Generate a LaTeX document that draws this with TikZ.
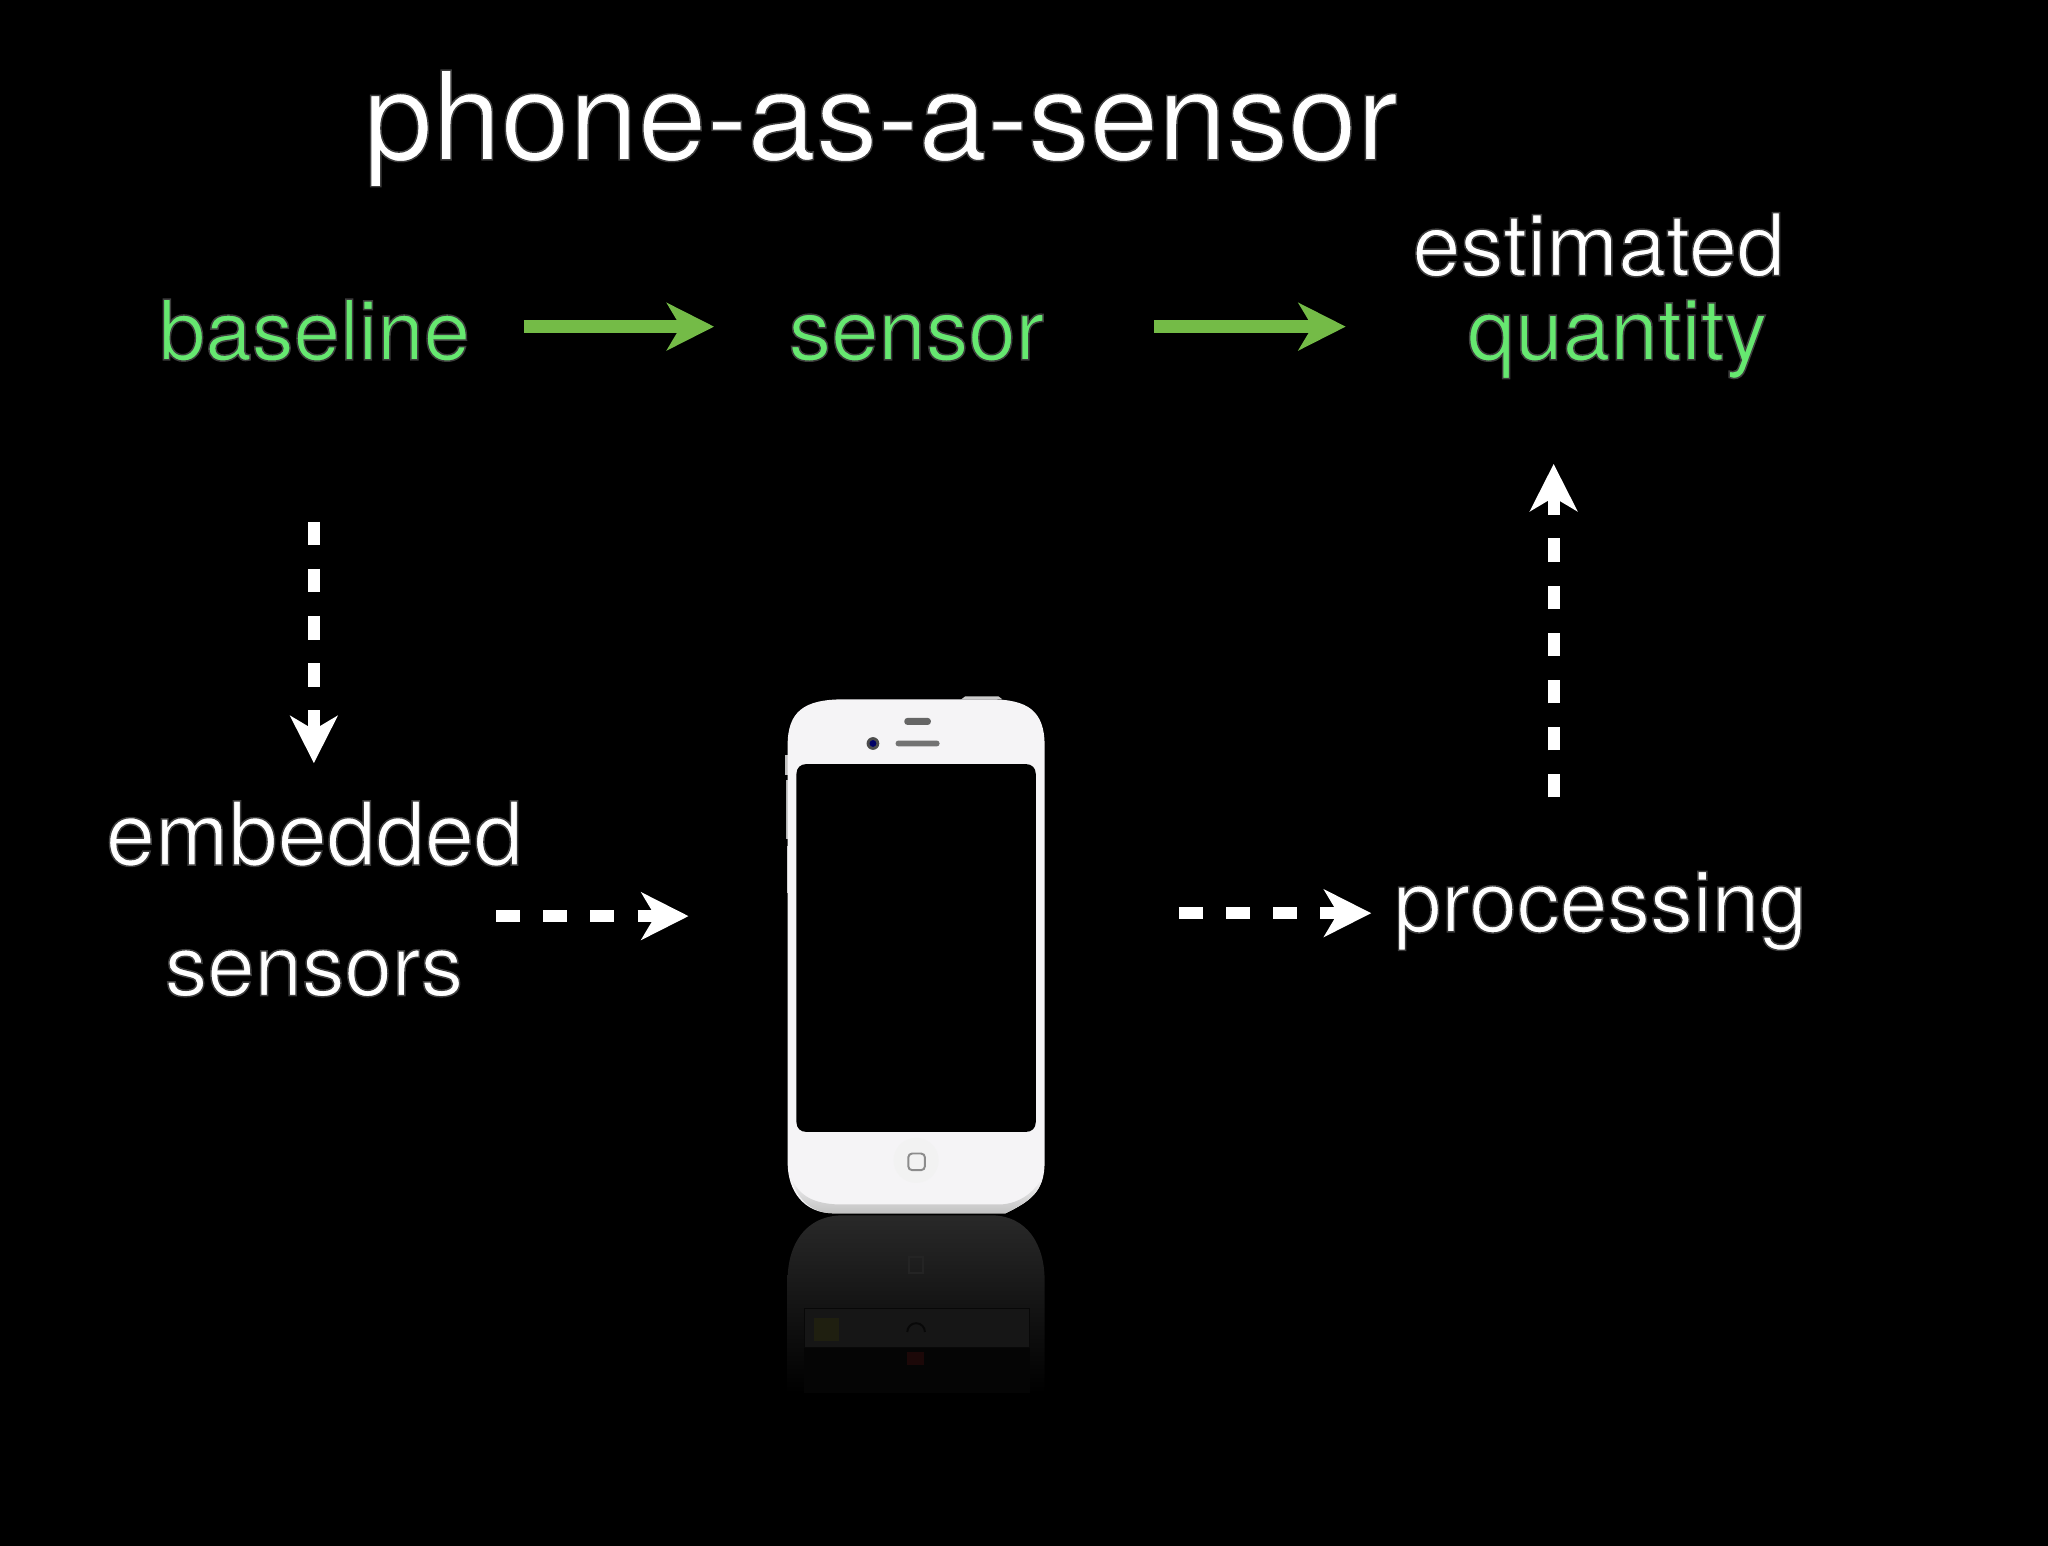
\documentclass[tikz,border=0pt]{standalone}
\usepackage{fontspec}
\setmainfont{TeX Gyre Heros}
\usetikzlibrary{arrows.meta}
\definecolor{greentext}{HTML}{66E870}
\definecolor{greenarrow}{HTML}{74BB47}
\definecolor{phonebody}{HTML}{F5F4F6}
\definecolor{reflecttop}{gray}{0.16}
\definecolor{reflectrect}{gray}{0.085}
\definecolor{reflectlow}{gray}{0.02}
\definecolor{reflectline}{gray}{0.03}
\definecolor{reflecticon}{HTML}{1F1F10}
\definecolor{reflectred}{HTML}{1C0808}
\definecolor{reflectbtn}{gray}{0.14}
% the text is filled, then stroked in a dim grey: thinner letters with a soft halo
\newcommand{\glowtext}[2]{{\color{#1}\special{pdf:code 2 Tr 0.24 0.24 0.24 RG 0.75 w}#2\special{pdf:code 0 Tr}}}
\tikzset{
  lbl/.style={anchor=base west,inner sep=0pt,outer sep=0pt},
  greenarr/.style={draw=greenarrow,line width=6.5pt,-{Stealth[length=24pt,width=24pt,inset=7pt,fill=greenarrow]}},
  dasharr/.style={draw=white,line width=6pt,dash pattern=on 12pt off 12pt,-{Stealth[length=24pt,width=24pt,inset=7pt,fill=white]}},
  pill/.style={fill=#1,rounded corners=1.5pt}
}
\begin{document}
\begin{tikzpicture}[x=0.5pt,y=-0.5pt]
\fill[black] (-20,-20) rectangle (2068,1556);
\useasboundingbox (0,0) rectangle (2048,1536);

% reflection
\shade[top color=reflecttop,bottom color=black]
  (783,1285) .. controls (783,1250) and (800,1219) .. (840,1219) -- (990,1219)
  .. controls (1028,1219) and (1045,1250) .. (1045,1285) -- (1045,1400) -- (783,1400) -- cycle;
\fill[reflectlow] (800,1354) rectangle (1030,1400);
\fill[reflectrect] (800,1314) rectangle (1030,1354);
\draw[reflectline,line width=0.6pt] (800,1314) rectangle (1030,1354);
\fill[reflecticon] (810,1324) rectangle (835,1347);
\draw[reflectbtn,line width=1pt] (907,1262) rectangle (921,1278);
\draw[reflectline,line width=1pt] (905,1338) arc (180:360:9);
\fill[reflectred] (905,1358) rectangle (922,1372);

% phone
\fill[white!80!black] (960,693) -- (964,690) -- (998,690) -- (1002,693) -- cycle;
\fill[white!75!black] (780,750) rectangle (785,770);
\fill[white!70!black] (781,775) rectangle (785,835);
\fill[white!75!black] (782,842) rectangle (785,890);
\fill[phonebody]
  (783,740) .. controls (783,705) and (800,693) .. (840,693) -- (990,693)
  .. controls (1028,693) and (1045,705) .. (1045,740) -- (1045,1165)
  .. controls (1045,1195) and (1030,1205) .. (1005,1217) -- (830,1217)
  .. controls (800,1217) and (783,1195) .. (783,1165) -- cycle;
\shade[top color=phonebody,bottom color=white!76!black]
  (786,1180) .. controls (795,1200) and (810,1207) .. (835,1208) -- (1000,1208)
  .. controls (1020,1207) and (1035,1195) .. (1043,1180)
  .. controls (1040,1195) and (1030,1205) .. (1005,1217) -- (830,1217)
  .. controls (805,1217) and (792,1200) .. (786,1180) -- cycle;
\fill[black] (802,759) -- (1026,759) .. controls (1032,759) and (1036,763) .. (1036,769)
  -- (1036,1124) .. controls (1036,1130) and (1032,1134) .. (1026,1134)
  -- (802,1134) .. controls (796,1134) and (792,1130) .. (792,1124)
  -- (792,769) .. controls (792,763) and (796,759) .. (802,759) -- cycle;
\fill[pill=black!60!white] (902,712) rectangle (929,719);
\fill[pill=black!55!white] (893,735) rectangle (938,741);
\fill[black!70!white] (870,738) circle (6.5);
\fill[blue!40!black] (870,738) circle (3.5);
\fill[white!95!black] (914,1163) circle (23);
\draw[black!45!white,line width=1pt,rounded corners=2pt] (906,1156) rectangle (923,1173);

% labels
\node[lbl,font=\fontsize{62.8}{70}\selectfont] (title) at (351,143) {\glowtext{white}{phone-as-a-sensor}};
\node[lbl,font=\fontsize{42.6}{50}\selectfont] (base) at (142,347) {\glowtext{greentext}{baseline}};
\node[lbl,font=\fontsize{43.4}{50}\selectfont] (sens) at (784,347) {\glowtext{greentext}{sensor}};
\node[lbl,font=\fontsize{44}{50}\selectfont] (est) at (1420,261) {\glowtext{white}{estimated}};
\node[lbl,font=\fontsize{43.6}{50}\selectfont] (qty) at (1476,347) {\glowtext{greentext}{quantity}};
\node[lbl,font=\fontsize{45}{50}\selectfont] (emb) at (88,862) {\glowtext{white}{embedded}};
\node[lbl,font=\fontsize{43.4}{50}\selectfont] (snsrs) at (148,995) {\glowtext{white}{sensors}};
\node[lbl,font=\fontsize{43.6}{50}\selectfont] (proc) at (1401,930) {\glowtext{white}{processing}};

% connector ends
\coordinate (g1s) at (514,313); \coordinate (g1e) at (708,313);
\coordinate (g2s) at (1157,313); \coordinate (g2e) at (1352,313);
\coordinate (d1s) at (300,512); \coordinate (d1e) at (300,758);
\coordinate (d2s) at (486,914); \coordinate (d2e) at (682,914);
\coordinate (d3s) at (1182,911); \coordinate (d3e) at (1378,911);
\coordinate (d4s) at (1564,793); \coordinate (d4e) at (1564,453);

\draw[greenarr] (g1s) -- (g1e);
\draw[greenarr] (g2s) -- (g2e);
\draw[dasharr] (d1s) -- (d1e);
\draw[dasharr] (d2s) -- (d2e);
\draw[dasharr] (d3s) -- (d3e);
\draw[dasharr] (d4s) -- (d4e);
\end{tikzpicture}
\end{document}
